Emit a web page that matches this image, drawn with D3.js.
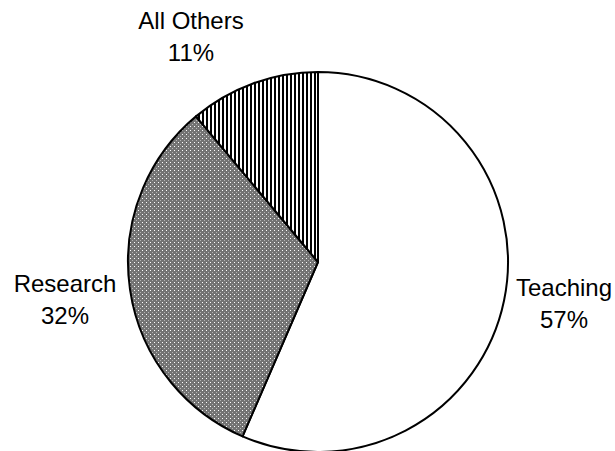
<html>
<head>
<meta charset="utf-8">
<title>Pie</title>
<script src="https://d3js.org/d3.v7.min.js"></script>
<style>
body { margin:0; background:#fff; }
.lbl { font: 24px "Liberation Sans", Arial, sans-serif; fill:#000; }
</style>
</head>
<body>
<svg id="chart" width="615" height="451"></svg>
<script>
const categories = ["Teaching", "Research", "All Others"];
const shares = [56.5, 32.4, 11.1];
const fills = ["#fff", "url(#dots)", "url(#vstripes)"];

const svg = d3.select("#chart");
const cx = 318, cy = 262, r = 190;

// patterns
const defs = svg.append("defs");
const dots = defs.append("pattern").attr("id", "dots")
  .attr("patternUnits", "userSpaceOnUse").attr("width", 4).attr("height", 4);
dots.append("rect").attr("width", 4).attr("height", 4).attr("fill", "#737373");
dots.append("rect").attr("x", 0).attr("y", 0).attr("width", 1).attr("height", 1).attr("fill", "#fff");
dots.append("rect").attr("x", 2).attr("y", 2).attr("width", 1).attr("height", 1).attr("fill", "#b4b4b4");

const stripes = defs.append("pattern").attr("id", "vstripes")
  .attr("patternUnits", "userSpaceOnUse").attr("width", 4).attr("height", 4);
stripes.append("rect").attr("width", 4).attr("height", 4).attr("fill", "#fff");
stripes.append("rect").attr("x", 0).attr("width", 2).attr("height", 4).attr("fill", "#000");

const pie = d3.pie().sort(null).value(d => d)(shares);
const arc = d3.arc().innerRadius(0).outerRadius(r);

const g = svg.append("g").attr("transform", `translate(${cx},${cy})`);
g.selectAll("path").data(pie).enter().append("path")
  .attr("d", arc)
  .attr("fill", (d, i) => fills[i])
  .attr("stroke", "#000")
  .attr("stroke-width", 2)
  .attr("stroke-linejoin", "round");

// label placement (Excel-like manual positions)
const labelPos = [[564, 296], [65, 292], [191, 29]];
const lineGap = 32;
categories.forEach((c, i) => {
  const t = svg.append("text").attr("class", "lbl")
    .attr("text-anchor", "middle")
    .attr("x", labelPos[i][0]).attr("y", labelPos[i][1]);
  t.append("tspan").attr("x", labelPos[i][0]).text(c);
  t.append("tspan").attr("x", labelPos[i][0]).attr("dy", lineGap).text(Math.round(shares[i]) + "%");
});
</script>
</body>
</html>
